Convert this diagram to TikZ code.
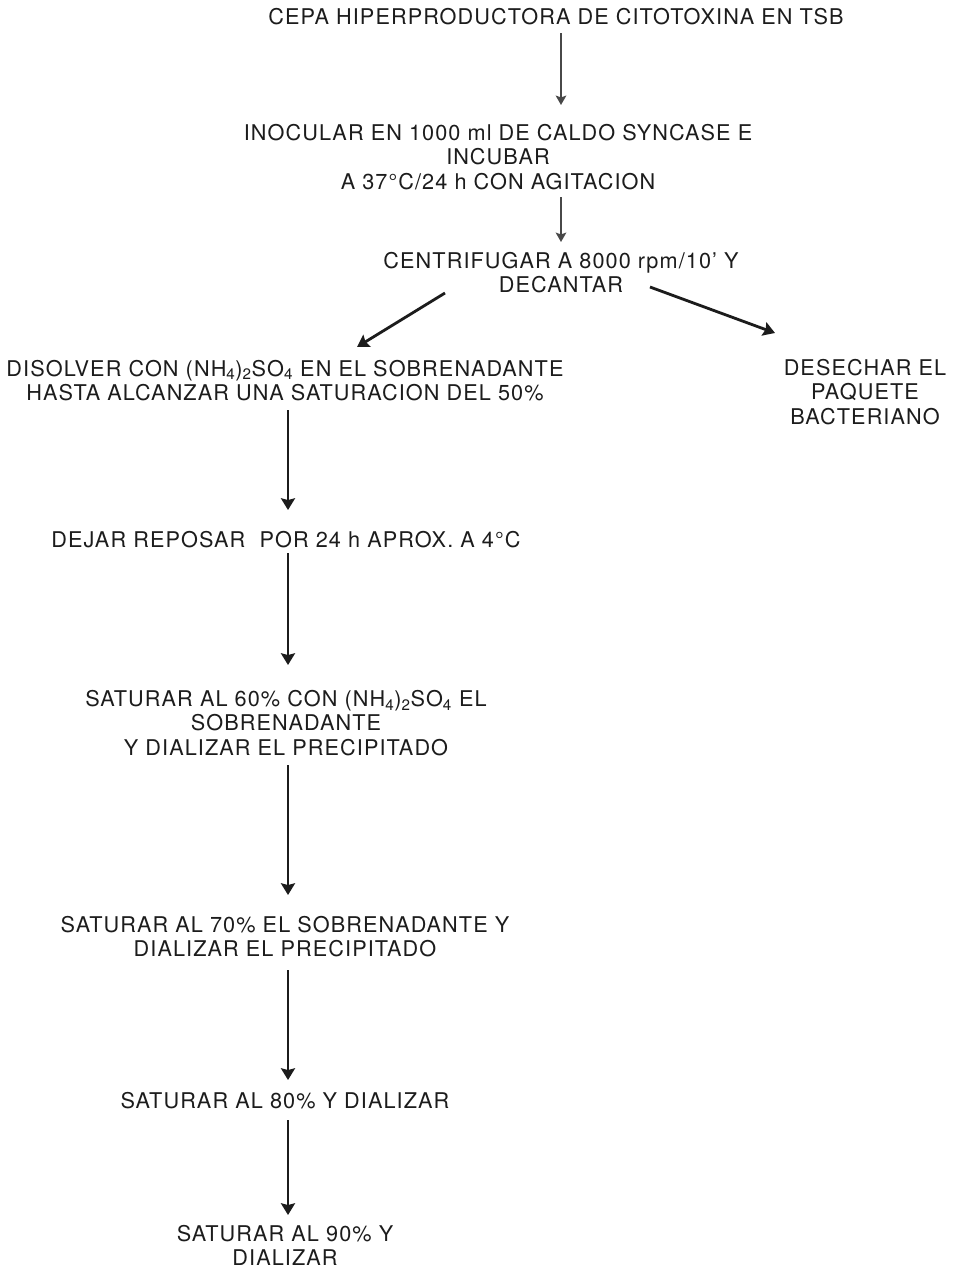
\documentclass[tikz,border=0pt]{standalone}
\usepackage{fontspec}
\setmainfont{TeX Gyre Heros}
\usetikzlibrary{arrows.meta}
\definecolor{tinta}{RGB}{28, 28, 28}
\definecolor{flechagris}{RGB}{72, 72, 72}

\begin{document}
\begin{tikzpicture}[
    x=0.03cm, y=-0.03cm,
    font=\fontsize{18.5}{21}\selectfont\addfontfeature{LetterSpace=5},
    paso/.style={
        rectangle, align=center, inner sep=0pt, text=tinta
    },
    flecha/.style={
        -{Stealth[length=8pt, width=9pt, inset=1.5pt]},
        line width=1.4pt, draw=flechagris
    },
    flechagruesa/.style={
        -{Stealth[length=10pt, width=12pt, inset=1.5pt]},
        line width=2.4pt, draw=tinta
    }
]
\useasboundingbox (0, 0) rectangle (954, 1276);

% 1. Cepa e inoculo
\node[paso] (cepa) at (556, 17) {CEPA HIPERPRODUCTORA DE CITOTOXINA EN TSB};

\node[paso] (inocular) at (498, 157) {
    INOCULAR EN 1000 ml DE CALDO SYNCASE E\\
    INCUBAR\\
    A 37°C/24 h CON AGITACION
};

% 2. Centrifugacion
\node[paso] (centrifugar) at (561, 272.5) {
    CENTRIFUGAR A 8000 rpm/10' Y\\
    DECANTAR
};

\node[paso] (disolver) at (285, 380.5) {
    DISOLVER CON (NH\textsubscript{4})\textsubscript{2}SO\textsubscript{4} EN EL SOBRENADANTE\\
    HASTA ALCANZAR UNA SATURACION DEL 50\%
};

\node[paso] (desechar) at (865, 392) {
    DESECHAR EL\\
    PAQUETE\\
    BACTERIANO
};

% 3. Precipitacion por etapas
\node[paso] (reposar) at (286, 540) {DEJAR REPOSAR~ POR 24 h APROX. A 4°C};

\node[paso] (sat60) at (286, 723) {
    SATURAR AL 60\% CON (NH\textsubscript{4})\textsubscript{2}SO\textsubscript{4} EL\\
    SOBRENADANTE\\
    Y DIALIZAR EL PRECIPITADO
};

\node[paso] (sat70) at (285, 936.5) {
    SATURAR AL 70\% EL SOBRENADANTE Y\\
    DIALIZAR EL PRECIPITADO
};

\node[paso] (sat80) at (285, 1101) {SATURAR AL 80\% Y DIALIZAR};

\node[paso] (sat90) at (285, 1245.5) {
    SATURAR AL 90\% Y\\
    DIALIZAR
};

% ================= Flechas =================
\draw[flecha] ([shift={(5, 16)}]cepa.center) -- ([shift={(63, -52)}]inocular.center);
\draw[flecha] ([shift={(63, 40)}]inocular.center) -- ([shift={(0, -30.5)}]centrifugar.center);

% sobrenadante / paquete
\draw[flechagruesa] ([shift={(-116, 20.5)}]centrifugar.center) -- ([shift={(72, -33.5)}]disolver.center);
\draw[flechagruesa] ([shift={(89, 14.5)}]centrifugar.center) -- ([shift={(-90, -59)}]desechar.center);

\draw[flechagruesa] ([shift={(3, 29.5)}]disolver.center) -- ([shift={(2, -30)}]reposar.center);
\draw[flechagruesa] ([shift={(2, 13)}]reposar.center) -- ([shift={(2, -58)}]sat60.center);
\draw[flechagruesa] ([shift={(2, 42)}]sat60.center) -- ([shift={(3, -41.5)}]sat70.center);
\draw[flechagruesa] ([shift={(3, 33.5)}]sat70.center) -- ([shift={(3, -21)}]sat80.center);
\draw[flechagruesa] ([shift={(3, 19)}]sat80.center) -- ([shift={(3, -30.5)}]sat90.center);

\end{tikzpicture}
\end{document}
